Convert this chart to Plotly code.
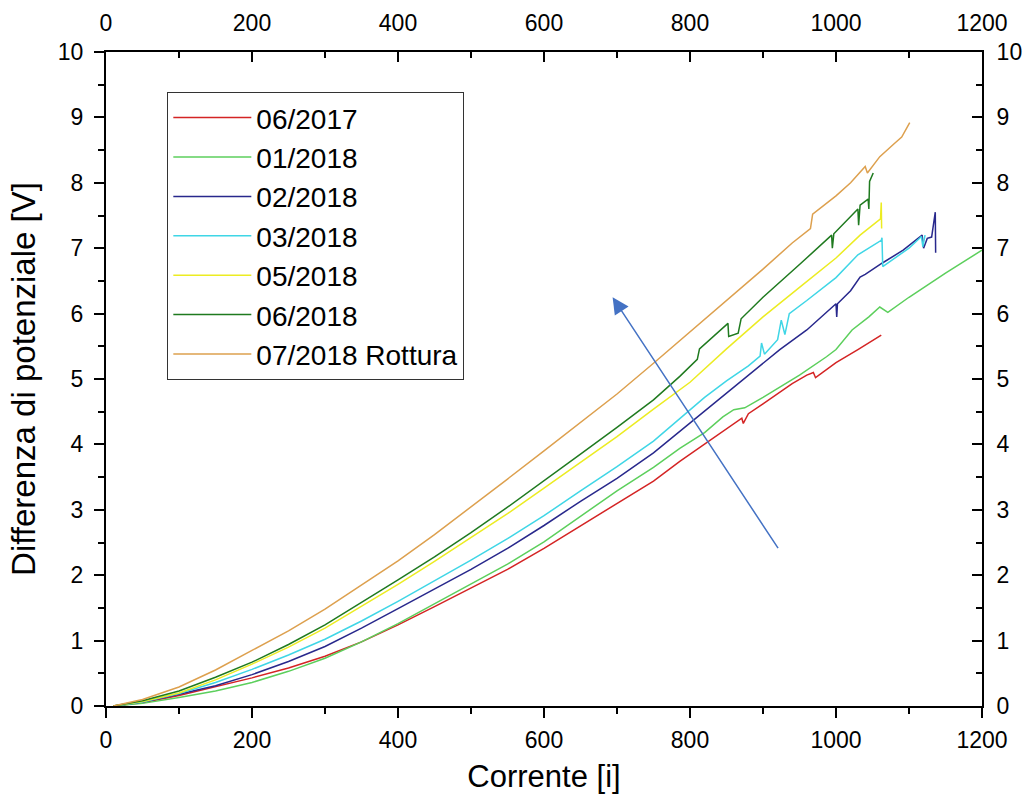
import plotly.graph_objects as go

# ---- data ----
series_names = ["06/2017", "01/2018", "02/2018", "03/2018", "05/2018", "06/2018", "07/2018 Rottura"]
series_colors = ["#D42424", "#5CCF5C", "#28288C", "#3FD6E6", "#ECEC22", "#1F7A1F", "#DDA04E"]

red_x = [10, 50, 100, 150, 200, 250, 300, 350, 400, 450, 500, 550, 600, 650, 700, 750, 786, 830, 871, 873, 880, 900, 920, 940, 960, 969, 972, 987, 1000, 1030, 1062]
red_y = [0, 0.05, 0.16, 0.29, 0.43, 0.58, 0.76, 0.98, 1.24, 1.52, 1.80, 2.09, 2.41, 2.75, 3.10, 3.44, 3.74, 4.08, 4.40, 4.32, 4.47, 4.62, 4.78, 4.93, 5.06, 5.10, 5.02, 5.14, 5.25, 5.45, 5.67]

lgreen_x = [10, 50, 100, 150, 200, 250, 300, 350, 400, 450, 500, 550, 600, 650, 700, 750, 786, 820, 845, 860, 875, 900, 950, 987, 1000, 1022, 1045, 1060, 1071, 1100, 1150, 1200]
lgreen_y = [0, 0.04, 0.13, 0.23, 0.36, 0.53, 0.73, 0.98, 1.26, 1.56, 1.86, 2.17, 2.51, 2.90, 3.29, 3.65, 3.94, 4.18, 4.42, 4.53, 4.56, 4.72, 5.06, 5.34, 5.45, 5.75, 5.95, 6.10, 6.02, 6.25, 6.62, 6.97]

blue_x = [10, 50, 100, 150, 200, 250, 300, 350, 400, 450, 500, 550, 600, 650, 700, 750, 786, 800, 850, 900, 923, 960, 1000, 1001, 1002, 1020, 1033, 1040, 1063, 1092, 1118, 1120, 1125, 1131, 1136, 1136.5]
blue_y = [0, 0.06, 0.18, 0.31, 0.48, 0.68, 0.91, 1.19, 1.49, 1.79, 2.09, 2.41, 2.76, 3.13, 3.48, 3.87, 4.20, 4.33, 4.79, 5.24, 5.45, 5.75, 6.15, 5.95, 6.15, 6.35, 6.56, 6.60, 6.77, 6.97, 7.20, 7.00, 7.15, 7.17, 7.55, 6.93]

cyan_x = [10, 50, 100, 150, 200, 250, 300, 350, 400, 450, 500, 550, 600, 650, 700, 750, 786, 820, 850, 880, 896, 898, 902, 920, 925, 930, 936, 960, 1000, 1030, 1062, 1063, 1064, 1080, 1100, 1117, 1119, 1122]
cyan_y = [0, 0.06, 0.19, 0.36, 0.56, 0.78, 1.02, 1.30, 1.60, 1.91, 2.23, 2.56, 2.91, 3.29, 3.66, 4.05, 4.40, 4.72, 4.97, 5.20, 5.35, 5.55, 5.38, 5.60, 5.90, 5.68, 6.00, 6.20, 6.55, 6.90, 7.12, 7.16, 6.72, 6.85, 7.00, 7.18, 7.02, 7.20]

yellow_x = [10, 50, 100, 150, 200, 250, 300, 350, 400, 450, 500, 550, 600, 650, 700, 750, 800, 850, 900, 950, 1000, 1033, 1050, 1061, 1062, 1062.5]
yellow_y = [0, 0.07, 0.20, 0.40, 0.64, 0.90, 1.19, 1.52, 1.86, 2.21, 2.57, 2.94, 3.33, 3.73, 4.12, 4.54, 4.95, 5.46, 5.95, 6.40, 6.85, 7.20, 7.35, 7.45, 7.70, 7.30]

dgreen_x = [10, 50, 100, 150, 200, 250, 300, 350, 400, 450, 500, 550, 600, 650, 700, 750, 786, 810, 813, 852, 853, 866, 870, 900, 950, 994, 995, 997, 1030, 1031, 1033, 1044, 1045, 1046, 1051]
dgreen_y = [0, 0.08, 0.23, 0.44, 0.67, 0.94, 1.24, 1.58, 1.93, 2.28, 2.65, 3.04, 3.44, 3.85, 4.26, 4.68, 5.04, 5.30, 5.46, 5.85, 5.65, 5.70, 5.92, 6.25, 6.75, 7.20, 7.00, 7.22, 7.60, 7.35, 7.66, 7.75, 7.60, 8.02, 8.15]

orange_x = [10, 50, 100, 150, 200, 250, 300, 350, 400, 450, 500, 550, 600, 650, 700, 750, 800, 850, 900, 940, 965, 968, 1000, 1020, 1040, 1043, 1060, 1080, 1090, 1101]
orange_y = [0, 0.10, 0.29, 0.55, 0.85, 1.15, 1.48, 1.85, 2.22, 2.62, 3.04, 3.47, 3.90, 4.33, 4.77, 5.24, 5.72, 6.20, 6.68, 7.08, 7.30, 7.52, 7.80, 8.00, 8.25, 8.15, 8.40, 8.60, 8.70, 8.92]

x_ticks = [0, 200, 400, 600, 800, 1000, 1200]
y_ticks = [0, 1, 2, 3, 4, 5, 6, 7, 8, 9, 10]

# arrow (data coordinates): tail -> head
arrow_tail = (922, 2.39)
arrow_head = (694, 6.25)

all_x = [red_x, lgreen_x, blue_x, cyan_x, yellow_x, dgreen_x, orange_x]
all_y = [red_y, lgreen_y, blue_y, cyan_y, yellow_y, dgreen_y, orange_y]

FONT = "Liberation Sans, Arial, sans-serif"

fig = go.Figure()
for name, col, xs, ys in zip(series_names, series_colors, all_x, all_y):
    fig.add_trace(go.Scatter(x=xs, y=ys, mode="lines", name=name,
                             line=dict(color=col, width=1.5)))

# dummy trace to activate top / right axes
fig.add_trace(go.Scatter(x=[None], y=[None], xaxis="x2", yaxis="y2",
                         showlegend=False, hoverinfo="skip"))

axis_common = dict(showgrid=False, zeroline=False, showline=True, automargin=False,
                   linecolor="black", linewidth=2, tickcolor="black",
                   tickwidth=2, tickfont=dict(family=FONT, size=23, color="black"))

fig.update_layout(
    width=1027, height=804,
    paper_bgcolor="white", plot_bgcolor="white",
    margin=dict(l=106, r=45, t=52, b=98),
    font=dict(family=FONT, color="black"),
    xaxis=dict(range=[0, 1200], tickvals=x_ticks, ticks="outside", ticklen=10,
               minor=dict(dtick=100, ticklen=6, tickwidth=2, ticks="outside", tickcolor="black"),
               ticklabelstandoff=2,
               title=dict(text="Corrente [i]", font=dict(family=FONT, size=31), standoff=14),
               **axis_common),
    xaxis2=dict(range=[0, 1200], tickvals=x_ticks, ticks="inside", ticklen=10,
                overlaying="x", side="top", anchor="y",
                minor=dict(dtick=100, ticklen=6, tickwidth=2, ticks="inside", tickcolor="black"),
                ticklabelstandoff=10,
                **axis_common),
    yaxis=dict(range=[0, 10], tickvals=y_ticks, ticks="outside", ticklen=10,
               minor=dict(dtick=0.5, ticklen=6, tickwidth=2, ticks="outside", tickcolor="black"),
               ticklabelstandoff=6,
               title=dict(text="Differenza di potenziale [V]", font=dict(family=FONT, size=33), standoff=12),
               **axis_common),
    yaxis2=dict(range=[0, 10], tickvals=y_ticks, ticks="inside", ticklen=10,
                overlaying="y", side="right", anchor="x",
                minor=dict(dtick=0.5, ticklen=6, tickwidth=2, ticks="inside", tickcolor="black"),
                ticklabelstandoff=8,
                **axis_common),
    legend=dict(x=0.07, y=0.939, xanchor="left", yanchor="top",
                bgcolor="white", bordercolor="#333333", borderwidth=1,
                font=dict(family=FONT, size=28, color="black"),
                itemwidth=78, tracegroupgap=0),
    showlegend=True,
)

fig.add_annotation(x=arrow_head[0], y=arrow_head[1], ax=arrow_tail[0], ay=arrow_tail[1],
                   xref="x", yref="y", axref="x", ayref="y", text="",
                   showarrow=True, arrowhead=2, arrowsize=2.2, arrowwidth=1.5,
                   arrowcolor="#4472C4")

fig.write_html("out.html", config={"displayModeBar": False},
               post_script="document.body.style.margin='0px';")
